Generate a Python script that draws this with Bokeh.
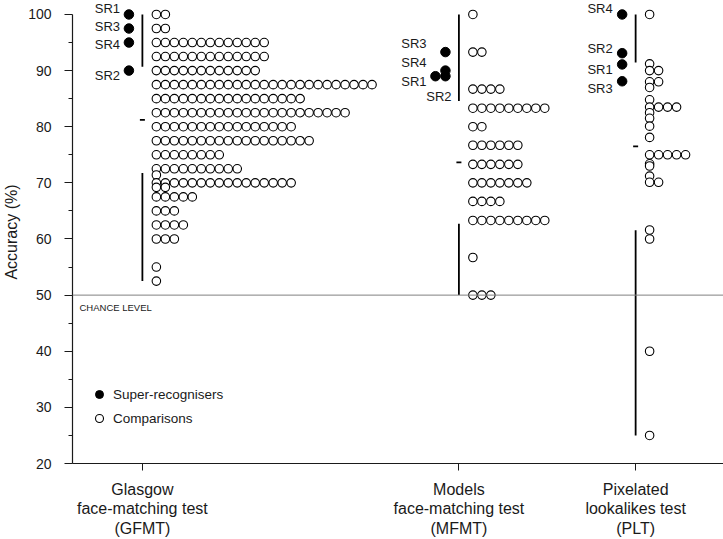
import numpy as np
from bokeh.plotting import figure
from bokeh.models import (Range1d, FixedTicker, Span, Label, Legend, LegendItem,
                          ColumnDataSource)
from bokeh.core.properties import value
from bokeh.embed import file_html
from bokeh.resources import INLINE

# ---------------- data ----------------
tests = ["GFMT", "MFMT", "PLT"]
tick_labels = ["Glasgow\nface-matching test\n(GFMT)",
               "Models\nface-matching test\n(MFMT)",
               "Pixelated\nlookalikes test\n(PLT)"]

# comparison participants: distinct scores and how many scored each
gfmt_vals = [100, 97.5, 95, 92.5, 90, 87.5, 85, 82.5, 80, 77.5, 75, 72.5, 71.4,
             70, 69.2, 67.5, 65, 62.5, 60, 55, 52.5]
gfmt_counts = [2, 2, 13, 13, 12, 25, 17, 22, 16, 18, 8, 10, 1,
               16, 2, 5, 3, 4, 3, 1, 1]
mfmt_vals = [100, 93.3, 86.7, 83.3, 80, 76.7, 73.3, 70, 66.7, 63.3, 56.7, 50]
mfmt_counts = [1, 2, 4, 9, 2, 6, 6, 7, 4, 9, 1, 3]
plt_vals = [100, 91.2, 90.0, 88.0, 87.0, 84.8, 83.5, 82.5, 81.5, 80.1, 78.1,
            75.0, 73.4, 73.0, 71.2, 70.1, 61.6, 60.0, 40.0, 25.0]
plt_counts = [1, 1, 2, 2, 1, 1, 4, 1, 1, 1, 1, 5, 1, 1, 1, 2, 1, 1, 1, 1]

# super-recognisers
sr_names = ["SR1", "SR2", "SR3", "SR4"]
gfmt_sr = [100, 90, 97.5, 95]
mfmt_sr = [89.0, 89.0, 93.3, 90.0]
plt_sr = [91.1, 93.1, 88.1, 100]
# accuracy level at which each SR name is written
gfmt_sr_label_y = [101.0, 89.2, 97.9, 94.6]
mfmt_sr_label_y = [88.1, 85.3, 94.8, 91.5]
plt_sr_label_y = [90.2, 93.9, 86.8, 101.0]

CHANCE = 50
chance_text = "CHANCE LEVEL"

# ---------------- layout / style ----------------
W, H = 723, 539
LEFT = 71
BOTTOM = 75
FRAME_W = W - LEFT          # 1 x unit = 1 px
FRAME_H = H - BOTTOM
PX_PER_PCT = 5.625
cat_x = [70, 387, 564]      # category centres (px from frame left)
DOT = 9                     # stacking step for comparison dots
COL0 = 14                   # first comparison column offset
SR_DX = -13.5               # SR dot offset
SR_STEP = 10
sr_label_dx = [[-47.7] * 4,
               [-57.7, -32.7, -57.7, -57.7],
               [-48.3] * 4]
FONT = "Liberation Sans"
INK = "#1a1a1a"

comp_sets = [(gfmt_vals, gfmt_counts), (mfmt_vals, mfmt_counts), (plt_vals, plt_counts)]
sr_sets = [gfmt_sr, mfmt_sr, plt_sr]
sr_label_sets = [gfmt_sr_label_y, mfmt_sr_label_y, plt_sr_label_y]

p = figure(width=W, height=H, output_backend="svg", toolbar_location=None,
           x_range=Range1d(0, FRAME_W),
           y_range=Range1d(20, 20 + FRAME_H / PX_PER_PCT),
           min_border_left=LEFT, min_border_right=0, min_border_top=0,
           min_border_bottom=BOTTOM)
p.outline_line_color = None
p.grid.visible = False
p.background_fill_color = "white"

# chance line
p.add_layout(Span(location=CHANCE, dimension="width", line_color="#808080",
                  line_width=1))
p.add_layout(Label(x=7, y=CHANCE - 12 / PX_PER_PCT, text=chance_text,
                   text_font=FONT, text_font_size="9.5px", text_color=INK,
                   text_baseline="middle", text_align="left"))

# comparison dots (stacked to the right)
cx, cy = [], []
seg = dict(x0=[], y0=[], x1=[], y1=[])
for cxi, (vals, counts) in zip(cat_x, comp_sets):
    scores = []
    for v, n in zip(vals, counts):
        for k in range(n):
            cx.append(cxi + COL0 + DOT * k)
            cy.append(v)
            scores.append(v)
    s = np.array(scores, dtype=float)
    m, sd = s.mean(), s.std(ddof=1)
    # upper whisker: mean+SD -> max ; lower: min -> mean-SD ; mean dash
    for (a, b) in [(m + sd, s.max()), (s.min(), m - sd)]:
        seg["x0"].append(cxi); seg["x1"].append(cxi)
        seg["y0"].append(a); seg["y1"].append(b)
    seg["x0"].append(cxi - 2.5); seg["x1"].append(cxi + 2.5)
    seg["y0"].append(m); seg["y1"].append(m)

p.segment(x0="x0", y0="y0", x1="x1", y1="y1", source=ColumnDataSource(seg),
          line_color="black", line_width=1.8)

cmp_r = p.scatter(cx, cy, marker="circle", size=8.5, fill_color="white",
                  line_color="black", line_width=1.1)

# SR dots (ties stacked to the left) and names
sx, sy = [], []
lx, ly, lt = [], [], []
for ti, (cxi, vals, labs) in enumerate(zip(cat_x, sr_sets, sr_label_sets)):
    seen = {}
    for j, v in enumerate(vals):
        k = seen.get(v, 0)
        seen[v] = k + 1
        sx.append(cxi + SR_DX - SR_STEP * k)
        sy.append(v)
        lx.append(cxi + sr_label_dx[ti][j])
        ly.append(labs[j])
        lt.append(sr_names[j])

sr_r = p.scatter(sx, sy, marker="circle", size=9.5, fill_color="black",
                 line_color="black", line_width=1)
p.text(x=lx, y=ly, text=lt, text_font=value(FONT), text_font_size=value("13px"),
       text_color=INK, text_align="left", text_baseline="middle")

# legend
legend = Legend(items=[LegendItem(label="Super-recognisers", renderers=[sr_r]),
                       LegendItem(label="Comparisons", renderers=[cmp_r])],
                location=(17, 35), border_line_color=None, background_fill_alpha=0,
                padding=0, margin=0, spacing=4, glyph_width=20, glyph_height=20,
                label_height=20, label_standoff=4, label_text_font=FONT,
                label_text_font_size="13.5px", label_text_color=INK)
p.add_layout(legend)

# y axis
ya = p.yaxis[0]
ya.ticker = FixedTicker(ticks=list(range(20, 101, 10)),
                        minor_ticks=list(range(25, 100, 10)))
ya.bounds = (20, 100)
ya.axis_line_color = INK
ya.axis_line_width = 1.2
ya.major_tick_line_color = INK
ya.minor_tick_line_color = INK
ya.major_tick_out = 8
ya.major_tick_in = 0
ya.minor_tick_out = 4
ya.minor_tick_in = 0
ya.major_label_standoff = 13
ya.major_label_text_font = FONT
ya.major_label_text_font_size = "14px"
ya.major_label_text_color = INK
ya.axis_label = "Accuracy (%)"
ya.axis_label_text_font = FONT
ya.axis_label_text_font_size = "16px"
ya.axis_label_text_font_style = "normal"
ya.axis_label_text_color = INK
ya.axis_label_standoff = 5

# x axis
xa = p.xaxis[0]
xa.ticker = FixedTicker(ticks=cat_x)
xa.major_label_overrides = {c: t for c, t in zip(cat_x, tick_labels)}
xa.axis_line_color = INK
xa.axis_line_width = 1.2
xa.major_tick_line_color = INK
xa.major_tick_out = 7
xa.major_tick_in = 0
xa.minor_tick_line_color = None
xa.major_label_standoff = 10
xa.major_label_text_font = FONT
xa.major_label_text_font_size = "16px"
xa.major_label_text_line_height = 1.16
xa.major_label_text_color = INK

open("out.html", "w").write(file_html(p, INLINE))
